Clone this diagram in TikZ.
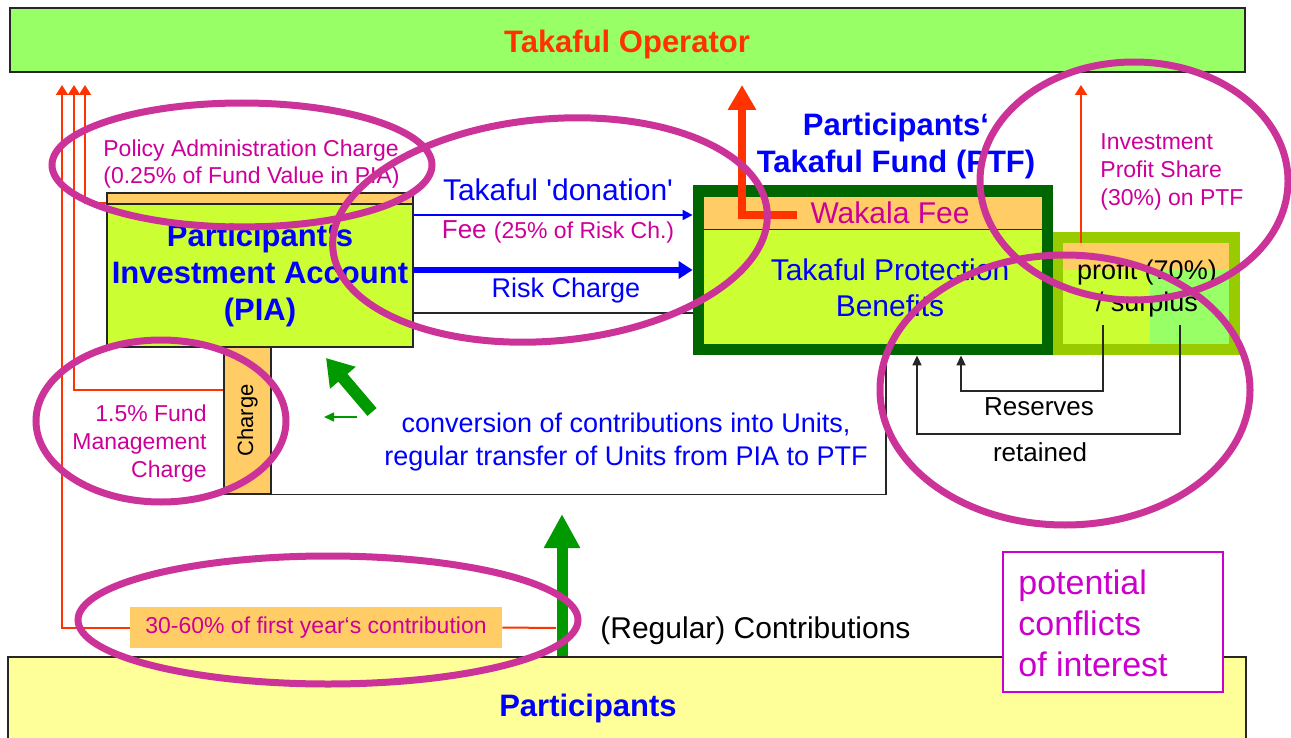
\documentclass[tikz,border=0pt]{standalone}
\usepackage{fontspec}
\setmainfont{Liberation Sans}
\usetikzlibrary{arrows.meta}

\definecolor{opgreen}{HTML}{99FF66}
\definecolor{partyellow}{HTML}{FFFF99}
\definecolor{limefill}{HTML}{CCFF33}
\definecolor{chargeorange}{HTML}{FFCC66}
\definecolor{fundgreen}{HTML}{006600}
\definecolor{surplusolive}{HTML}{99CC00}
\definecolor{feered}{HTML}{FF3300}
\definecolor{feeblue}{HTML}{0000FF}
\definecolor{feemagenta}{HTML}{CC0099}
\definecolor{ringpink}{HTML}{CC3399}
\definecolor{conflicttext}{HTML}{CC00CC}
\definecolor{contribgreen}{HTML}{009900}

\newcommand{\fsz}[2]{\fontsize{#1pt}{#2pt}\selectfont}

\begin{document}
\begin{tikzpicture}[x=0.5pt,y=-0.5pt,
  box/.style={draw=black!85,line width=0.6pt,inner sep=0pt},
  plain/.style={inner sep=0pt},
  txt/.style={inner sep=0pt},
  redline/.style={draw=feered,line width=1pt},
  redarrow/.style={redline,-{Triangle[width=6pt,length=5pt]}},
  wakarrow/.style={draw=feered,line width=4pt,line join=miter,-{Triangle[width=13.5pt,length=12.5pt]}},
  thinblue/.style={draw=feeblue,line width=1pt,-{Triangle[width=5pt,length=5pt]}},
  thickblue/.style={draw=feeblue,line width=3pt,-{Triangle[width=8.5pt,length=7pt]}},
  thinblack/.style={draw=black!85,line width=0.75pt},
  blkarrow/.style={thinblack,-{Triangle[width=4.5pt,length=5pt]}},
  bigarrow/.style={draw=contribgreen,line width=5.5pt,-{Triangle[width=17pt,length=17pt]}},
  diagarrow/.style={draw=contribgreen,line width=6pt,-{Triangle[width=16pt,length=13pt]}},
  smallarrow/.style={draw=contribgreen,line width=0.75pt,-{Triangle[width=4.5pt,length=5pt]}},
  ring/.style={draw=ringpink,line width=3.5pt}]

  \useasboundingbox (0,0) rectangle (1291,738);

  \node (op) at (627.5,40) [box,fill=opgreen,minimum width=617.5pt,minimum height=32pt] {};
  \node (optxt) at (627,44) [txt,font=\fsz{15.5}{18}\bfseries,text=feered] {Takaful Operator};
  \node (part) at (627,708) [box,fill=partyellow,minimum width=619pt,minimum height=51pt] {};
  \node (parttxt) at (588,708) [txt,font=\fsz{15.5}{18}\bfseries,text=feeblue] {Participants};

  \node (piastrip) at (260,198.5) [box,fill=chargeorange,minimum width=153pt,minimum height=5.5pt] {};
  \node (pia) at (260,275.5) [box,fill=limefill,minimum width=153pt,minimum height=71.5pt,align=center,font=\fsz{15.5}{18.5}\bfseries,text=feeblue] {Participant‘s\\Investment Account\\(PIA)};
  \node (chg) at (247.5,420.5) [box,fill=chargeorange,minimum width=23.5pt,minimum height=73.5pt] {};
  \node (chgtxt) at (chg.center) [txt,rotate=90,font=\fsz{11}{13}] {Charge};

  \node (ptf) at (873,270) [plain,fill=fundgreen,minimum width=180pt,minimum height=85pt] {};
  \node (wakala) at (873,213.5) [plain,fill=chargeorange,minimum width=169pt,minimum height=16.5pt] {};
  \node (prot) at (873,287) [plain,fill=limefill,minimum width=169pt,minimum height=57pt] {};
  \draw[thinblack] (prot.north west) -- (prot.north east);

  \node (profbox) at (1146.5,293.5) [plain,fill=surplusolive,minimum width=93.5pt,minimum height=61.5pt] {};
  \node (profhead) at (1146,256.5) [plain,fill=chargeorange,minimum width=83pt,minimum height=13.5pt] {};
  \node (proflo) at (1106.5,307) [plain,fill=limefill,minimum width=43.5pt,minimum height=37pt] {};
  \node (profhi) at (1189.5,307) [plain,fill=opgreen,minimum width=39.5pt,minimum height=37pt] {};

  \node (init) at (316,627.5) [plain,fill=chargeorange,minimum width=186pt,minimum height=20.5pt,font=\fsz{11.5}{13},text=feemagenta] {30-60\% of first year‘s contribution};
  \node (conflict) at (1113,622) [draw=conflicttext,line width=0.6pt,fill=white,minimum width=110pt,minimum height=70pt] {};

  \coordinate (tini) at (62,85);
  \coordinate (tfm) at (74,85);
  \coordinate (tpol) at (85,85);
  \coordinate (twak) at (742,85);
  \coordinate (tips) at (1081,85);
  \coordinate (wstart) at (797,215);
  \coordinate (cin) at (556,628);
  \coordinate (ctip) at (562,514);
  \coordinate (g1) at (372,412);
  \coordinate (g2) at (326,358);
  \coordinate (s1) at (357,417);
  \coordinate (s2) at (324,417);
  \coordinate (res1) at (1103,325);
  \coordinate (res2) at (1180,325);
  \coordinate (donY) at (0,215);
  \coordinate (riskY) at (0,270);
  \coordinate (lineY) at (0,313);
  \coordinate (trX) at (886,0);
  \coordinate (resX1) at (961,0);
  \coordinate (resX2) at (917,0);

  \draw[redarrow] (pia.north west) -| (tpol);
  \draw[redarrow] ([yshift=-22pt]chg.north west) -| (tfm);
  \draw[redline] (cin) -- (init.east);
  \draw[redarrow] (init.west) -| (tini);
  \draw[redarrow] (profhead.north -| tips) -- (tips);
  \draw[wakarrow] (wstart) -| (twak);

  \draw[thinblue] (pia.east |- donY) -- (ptf.west |- donY);
  \draw[thickblue] (pia.east |- riskY) -- (ptf.west |- riskY);
  \draw[thinblack] (pia.east |- lineY) -- (ptf.west |- lineY);
  \draw[thinblack] (chg.south east) -| (ptf.south -| trX);

  \draw[blkarrow] (res1) -- ++(0,66) -| (ptf.south -| resX1);
  \draw[blkarrow] (res2) -- ++(0,109) -| (ptf.south -| resX2);

  \draw[bigarrow] (part.north -| ctip) -- (ctip);
  \draw[diagarrow] (g1) -- (g2);
  \draw[smallarrow] (s1) -- (s2);

  \node (ptftitle) at (896,146) [txt,align=center,font=\fsz{15.5}{18.5}\bfseries,text=feeblue] {Participants‘\\Takaful Fund (PTF)};
  \node (wftxt) at (890,213) [txt,font=\fsz{15}{18},text=feemagenta] {Wakala Fee};
  \node (pbtxt) at (890,288) [txt,align=center,font=\fsz{15}{18},text=feeblue] {Takaful Protection\\Benefits};
  \node (proftxt) at (1147,289) [txt,align=center,font=\fsz{13.5}{16}] {profit (70\%)\\/ surplus};
  \node (ipstxt) at (1100,172) [txt,anchor=west,align=left,font=\fsz{11.5}{14},text=feemagenta] {Investment\\Profit Share\\(30\%) on PTF};
  \node (patxt) at (103,164) [txt,anchor=west,align=left,font=\fsz{11.5}{13.5},text=feemagenta] {Policy Administration Charge\\(0.25\% of Fund Value in PIA)};
  \node (fmtxt) at (207,444) [txt,anchor=east,align=right,font=\fsz{11.5}{14},text=feemagenta] {1.5\% Fund\\Management\\Charge};
  \node (dontxt) at (558,190) [txt,font=\fsz{15}{18},text=feeblue] {Takaful \textquotesingle donation\textquotesingle};
  \node (feetxt) at (558,232) [txt,text=feemagenta] {\fsz{13}{15}Fee {\fsz{11.5}{14}(25\% of Risk Ch.)}};
  \node (risktxt) at (566,291) [txt,font=\fsz{13.5}{16},text=feeblue] {Risk Charge};
  \node (convtxt) at (626,442) [txt,align=center,font=\fsz{13.5}{16.5},text=feeblue] {conversion of contributions into Units,\\regular transfer of Units from PIA to PTF};
  \node (contxt) at (600,631) [txt,anchor=west,font=\fsz{15}{18}] {(Regular) Contributions};
  \node (restxt) at (1039,407) [txt,font=\fsz{13}{15}] {Reserves};
  \node (rettxt) at (1040,452) [txt,font=\fsz{13}{15}] {retained};
  \node (cftxt) at (1018,623) [txt,anchor=west,align=left,font=\fsz{17}{20.5},text=conflicttext] {potential\\conflicts\\of interest};

  \foreach \cx/\cy/\rx/\ry/\tilt in {242/165/190/62/0, 550/230/218/111/5, 1134/181/154/119/0, 1065/390/185/135/0, 161/421/125/81/0, 328/620/250/64/0}
  {
    \draw[ring,rotate around={\tilt:(\cx,\cy)}] (\cx,\cy) ellipse [x radius=\rx, y radius=\ry];
  }

\end{tikzpicture}
\end{document}
